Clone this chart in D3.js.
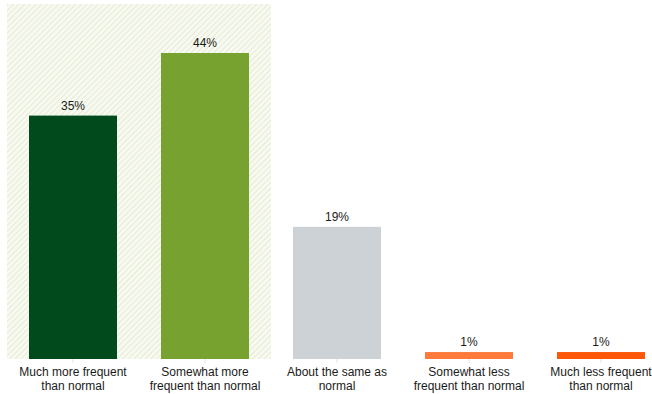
<!DOCTYPE html>
<html><head><meta charset="utf-8">
<script src="https://cdn.jsdelivr.net/npm/d3@7"></script>
<style>
html,body{margin:0;padding:0;background:#fff;}
svg{display:block;font-family:"Liberation Sans",Arial,Helvetica,sans-serif;}
</style></head>
<body>
<script>
const categories = [
  ["Much more frequent", "than normal"],
  ["Somewhat more", "frequent than normal"],
  ["About the same as", "normal"],
  ["Somewhat less", "frequent than normal"],
  ["Much less frequent", "than normal"]
];
const values = [35, 44, 19, 1, 1];
const valueLabels = ["35%", "44%", "19%", "1%", "1%"];
const colors = ["#004a1b", "#78a22f", "#cdd2d6", "#ff7b3b", "#ff5708"];
const highlighted = [0, 1];

const W = 652, H = 394;
const svg = d3.select("body").append("svg").attr("width", W).attr("height", H);

const keys = categories.map((c, i) => i);
const x = d3.scaleBand().domain(keys).range([7, 667]).paddingInner(1/3).paddingOuter(1/6);
const y = d3.scaleLinear().domain([0, 44]).range([359, 53]);

const defs = svg.append("defs");
const pat = defs.append("pattern").attr("id", "hatch").attr("patternUnits", "userSpaceOnUse")
  .attr("width", 4).attr("height", 4).attr("patternTransform", "rotate(45)");
pat.append("rect").attr("width", 4).attr("height", 4).attr("fill", "#f8faf2");
pat.append("line").attr("x1", 0).attr("y1", 0).attr("x2", 0).attr("y2", 4)
  .attr("stroke", "#dfe8cc").attr("stroke-width", 1.6);

const hx0 = x(highlighted[0]) - x.step() * x.paddingInner() / 2;
const hx1 = x(highlighted[highlighted.length - 1]) + x.bandwidth() + x.step() * x.paddingInner() / 2;
svg.append("rect").attr("x", hx0).attr("y", 4).attr("width", hx1 - hx0).attr("height", y(0) - 4)
  .attr("fill", "url(#hatch)");

// faint ticks
svg.append("g").selectAll("line").data(keys).join("line")
  .attr("x1", d => x(d) + x.bandwidth() / 2).attr("x2", d => x(d) + x.bandwidth() / 2)
  .attr("y1", y(0)).attr("y2", y(0) + 4).attr("stroke", "#e2e2e2").attr("stroke-width", 1);

svg.append("g").selectAll("rect").data(keys).join("rect")
  .attr("x", d => x(d)).attr("width", x.bandwidth())
  .attr("y", d => y(values[d])).attr("height", d => y(0) - y(values[d]))
  .attr("fill", d => colors[d]);

svg.append("g").selectAll("text").data(keys).join("text")
  .attr("x", d => x(d) + x.bandwidth() / 2).attr("y", d => y(values[d]) - 6)
  .attr("text-anchor", "middle").attr("font-size", 12).attr("fill", "#1a1a1a")
  .text(d => valueLabels[d]);

const lab = svg.append("g").selectAll("text").data(keys).join("text")
  .attr("text-anchor", "middle").attr("font-size", 12).attr("fill", "#1a1a1a");
lab.each(function(d) {
  const t = d3.select(this);
  categories[d].forEach((line, j) => {
    t.append("tspan").attr("x", x(d) + x.bandwidth() / 2).attr("y", 376 + j * 14).text(line);
  });
});
</script>
</body></html>
